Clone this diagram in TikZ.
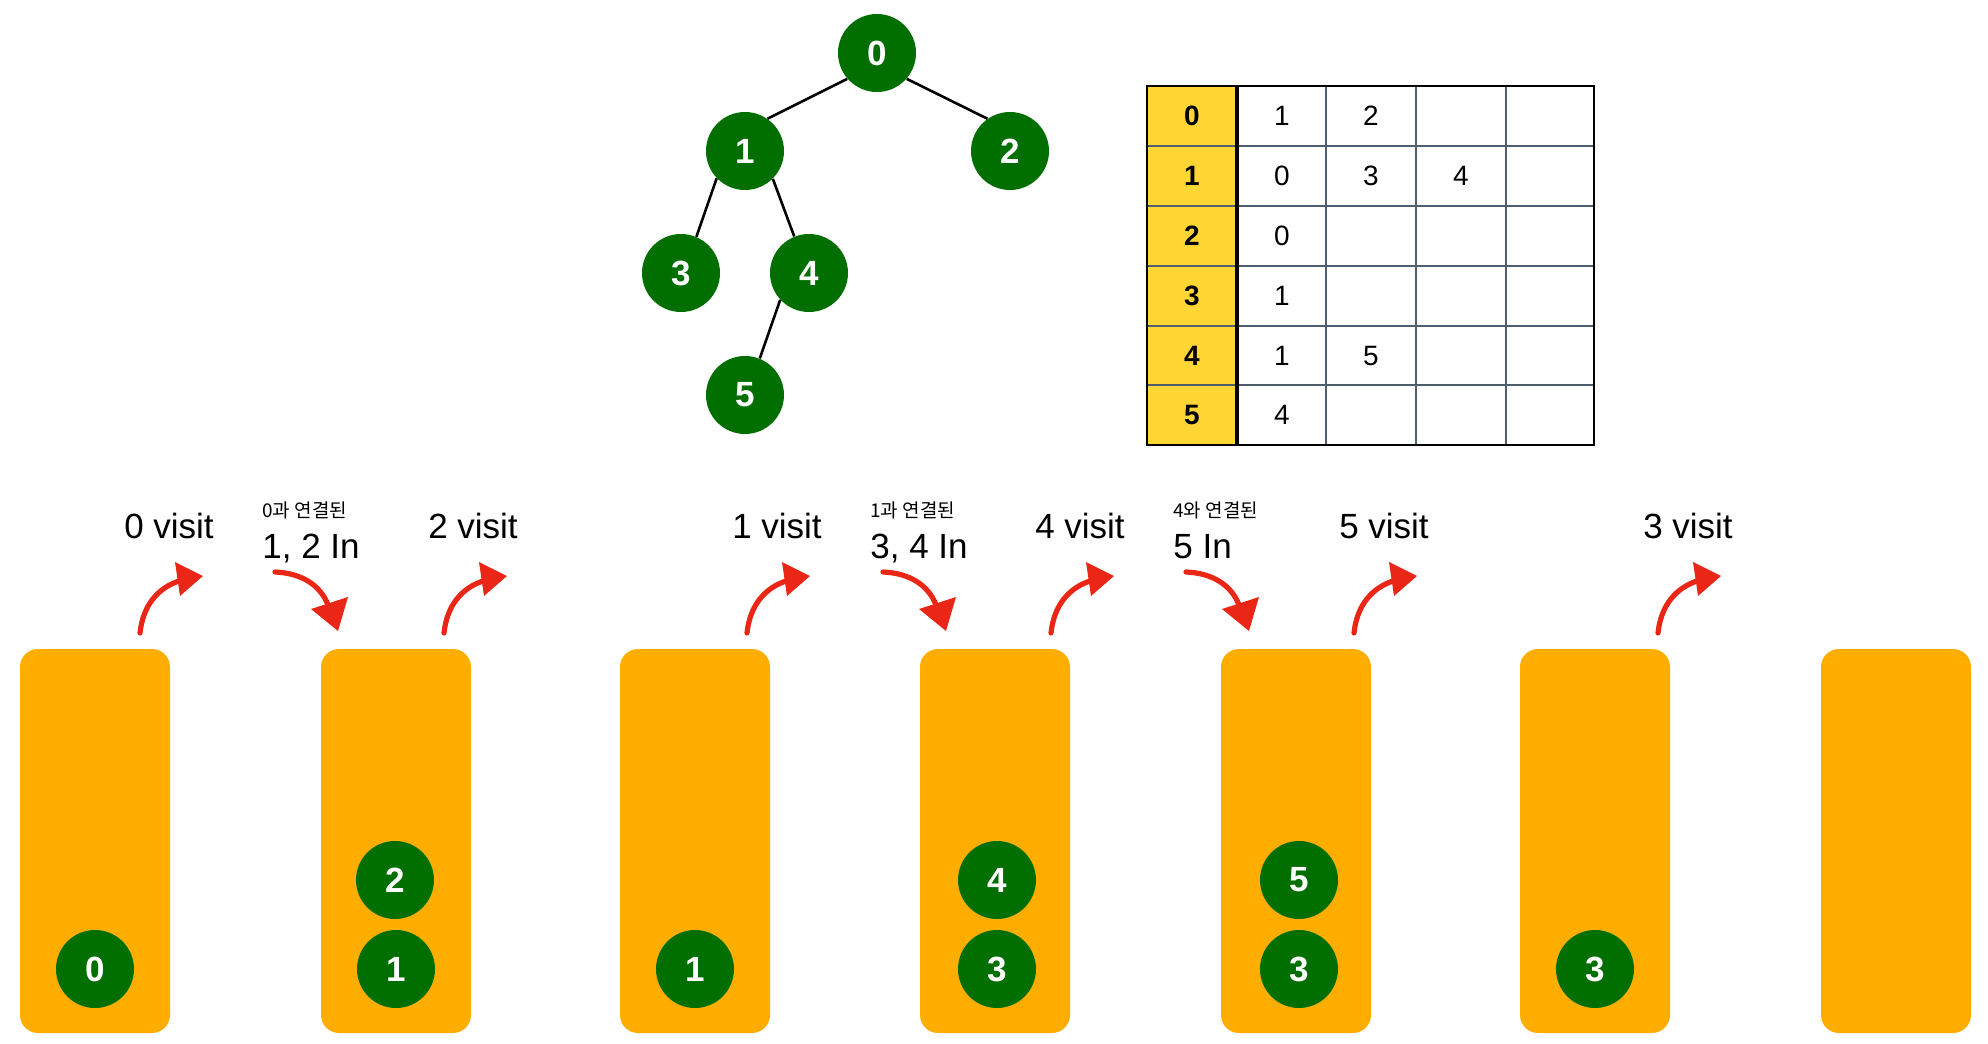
\documentclass[tikz,border=0pt]{standalone}
\usepackage{fontspec}
\setmainfont{Liberation Sans}
\newfontfamily\krfont{Noto Sans CJK KR}
\definecolor{nodegreen}{RGB}{0,111,0}
\definecolor{stackorange}{RGB}{255,174,0}
\definecolor{headyellow}{RGB}{255,214,51}
\definecolor{gridgray}{RGB}{78,94,110}
\definecolor{markred}{RGB}{234,38,22}
\begin{document}
\begin{tikzpicture}[x=0.5pt,y=-0.5pt,
  vert/.style={circle, fill=nodegreen, text=white, minimum size=39pt, inner sep=0pt,
    font=\fontsize{17.5}{20}\selectfont\bfseries},
  stackbox/.style={fill=stackorange, rounded corners=9pt},
  treeedge/.style={line width=1.3pt, black},
  visitlabel/.style={anchor=base, inner sep=0pt, font=\fontsize{17.5}{21}\selectfont},
  inlabel/.style={anchor=base west, inner sep=0pt, font=\fontsize{17.5}{21}\selectfont},
  krlabel/.style={anchor=base west, inner sep=0pt, font=\fontsize{9.5}{12}\krfont},
  headcell/.style={inner sep=0pt, font=\fontsize{14}{16}\selectfont\bfseries},
  bodycell/.style={inner sep=0pt, font=\fontsize{14}{16}\selectfont},
  pics/upmark/.style={code={
    \draw[markred, line width=2.6pt, line cap=round] (0,0) .. controls (3,-28) and (18,-46) .. (42,-53);
    \fill[markred] (35,-71) -- (63,-57) -- (40,-37) -- cycle;
  }},
  pics/downmark/.style={code={
    \draw[markred, line width=2.6pt, line cap=round] (0,0) .. controls (25,1) and (45,12) .. (53,33);
    \fill[markred] (36,37) -- (73,25) -- (63,59) -- cycle;
  }}
]
\useasboundingbox (0,0) rectangle (1988,1044);

% ---------- tree ----------
\node[vert] (t0) at (877,53) {0};
\node[vert] (t1) at (745,151) {1};
\node[vert] (t2) at (1010,151) {2};
\node[vert] (t3) at (681,273) {3};
\node[vert] (t4) at (809,273) {4};
\node[vert] (t5) at (745,395) {5};
\draw[treeedge] (t0.221) -- (t1.55);
\draw[treeedge] (t0.319) -- (t2.125);
\draw[treeedge] (t1.224) -- (t3.67);
\draw[treeedge] (t1.315) -- (t4.112);
\draw[treeedge] (t4.223) -- (t5.68);

% ---------- adjacency table ----------
\fill[headyellow] (1147,86) rectangle (1237,445);
\foreach \yy in {146,206,266,326,385}
  \draw[gridgray, line width=0.6pt] (1147,\yy) -- (1594,\yy);
\foreach \xx in {1326,1416,1506}
  \draw[gridgray, line width=0.6pt] (\xx,86) -- (\xx,445);
\draw[black, line width=0.8pt] (1147,86) rectangle (1594,445);
\draw[black, line width=2pt] (1237,86) -- (1237,445);

\foreach \r/\yy in {0/116,1/176,2/236,3/296,4/356,5/415}
  \node[headcell] (h\r) at (1192,\yy) {\r};
\node[bodycell] (c01) at (1282,116) {1};
\node[bodycell] (c02) at (1371,116) {2};
\node[bodycell] (c11) at (1282,176) {0};
\node[bodycell] (c12) at (1371,176) {3};
\node[bodycell] (c13) at (1461,176) {4};
\node[bodycell] (c21) at (1282,236) {0};
\node[bodycell] (c31) at (1282,296) {1};
\node[bodycell] (c41) at (1282,356) {1};
\node[bodycell] (c42) at (1371,356) {5};
\node[bodycell] (c51) at (1282,415) {4};

% ---------- stacks ----------
\foreach \k/\xx in {0/20,1/321,2/620,3/920,4/1221,5/1520,6/1821}
  \fill[stackorange, rounded corners=9pt] (\xx,649) rectangle ++(150,384);

\node[vert] (s0a) at (95,969) {0};
\node[vert] (s1a) at (396,969) {1};
\node[vert] (s1b) at (395,880) {2};
\node[vert] (s2a) at (695,969) {1};
\node[vert] (s3a) at (997,969) {3};
\node[vert] (s3b) at (997,880) {4};
\node[vert] (s4a) at (1299,969) {3};
\node[vert] (s4b) at (1299,880) {5};
\node[vert] (s5a) at (1595,969) {3};

% ---------- labels ----------
\node[visitlabel] (v0) at (169,538) {0 visit};
\node[visitlabel] (v1) at (473,538) {2 visit};
\node[visitlabel] (v2) at (777,538) {1 visit};
\node[visitlabel] (v3) at (1080,538) {4 visit};
\node[visitlabel] (v4) at (1384,538) {5 visit};
\node[visitlabel] (v5) at (1688,538) {3 visit};

\node[krlabel] (k0) at (262,517) {0과 연결된};
\node[inlabel] (i0) at (262,558) {1, 2 In};
\node[krlabel] (k1) at (870,517) {1과 연결된};
\node[inlabel] (i1) at (870,558) {3, 4 In};
\node[krlabel] (k2) at (1173,517) {4와 연결된};
\node[inlabel] (i2) at (1173,558) {5 In};

% ---------- red marks ----------
\foreach \xx in {140,444,747,1051,1354,1658}
  \pic at (\xx,633) {upmark};
\foreach \xx in {275,883,1186}
  \pic at (\xx,572) {downmark};

\end{tikzpicture}
\end{document}
